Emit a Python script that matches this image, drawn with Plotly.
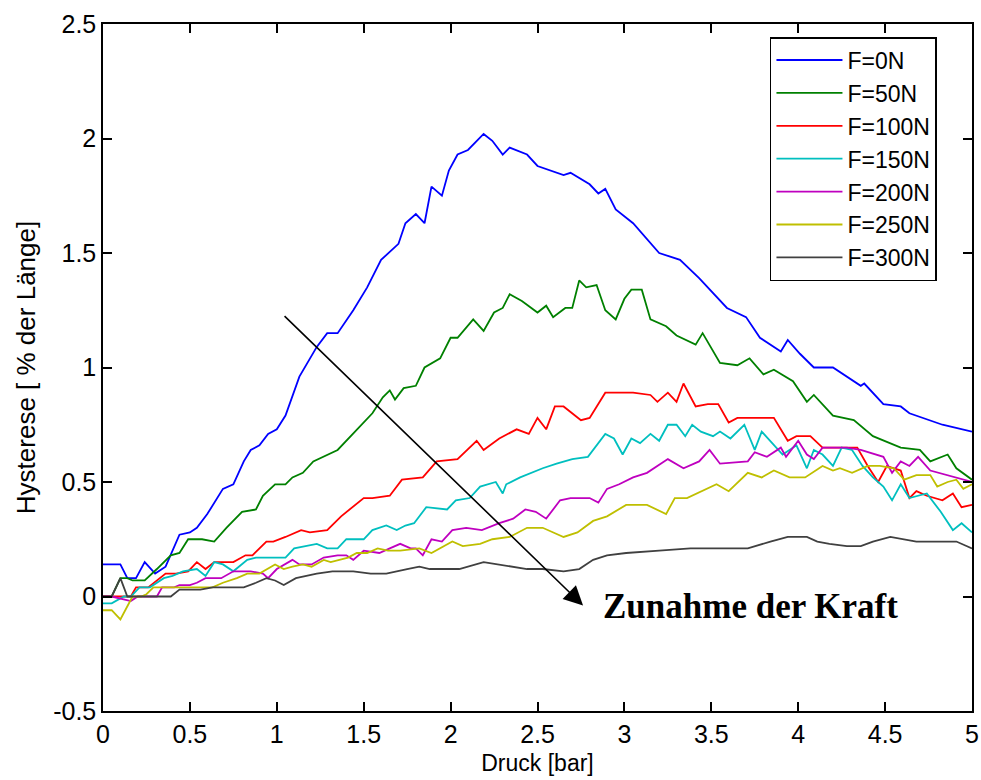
import plotly.graph_objects as go

# Hysterese über Druck für verschiedene Kräfte F
p_0N = [0, 0.1, 0.14, 0.19, 0.24, 0.3, 0.36, 0.44, 0.5, 0.54, 0.6, 0.65, 0.69, 0.75, 0.81, 0.85, 0.9, 0.95, 1.0, 1.05,
        1.13, 1.23, 1.29, 1.35, 1.44, 1.52, 1.6, 1.7, 1.74, 1.8, 1.85, 1.89, 1.95, 1.99, 2.04, 2.1, 2.19, 2.24, 2.3,
        2.34, 2.44, 2.5, 2.65, 2.69, 2.8, 2.85, 2.89, 2.95, 3.05, 3.2, 3.32, 3.43, 3.59, 3.7, 3.78, 3.9, 3.94, 4.01,
        4.09, 4.2, 4.36, 4.38, 4.49, 4.59, 4.64, 4.83, 5.0]
h_0N = [0.14, 0.14, 0.08, 0.08, 0.15, 0.1, 0.13, 0.27, 0.28, 0.3, 0.36, 0.42, 0.47, 0.49, 0.59, 0.64, 0.66, 0.71, 0.73,
        0.79, 0.96, 1.09, 1.15, 1.15, 1.25, 1.35, 1.47, 1.54, 1.63, 1.67, 1.63, 1.79, 1.75, 1.86, 1.93, 1.95, 2.02,
        1.99, 1.93, 1.96, 1.93, 1.88, 1.84, 1.85, 1.8, 1.76, 1.78, 1.69, 1.63, 1.5, 1.47, 1.39, 1.26, 1.22, 1.13,
        1.07, 1.12, 1.06, 1.0, 1.0, 0.92, 0.93, 0.84, 0.83, 0.8, 0.75, 0.72]

p_50N = [0, 0.05, 0.1, 0.14, 0.17, 0.24, 0.31, 0.39, 0.44, 0.49, 0.57, 0.64, 0.71, 0.8, 0.88, 0.92, 0.99, 1.05, 1.09,
         1.15, 1.21, 1.35, 1.45, 1.55, 1.61, 1.65, 1.68, 1.73, 1.8, 1.85, 1.94, 2.0, 2.04, 2.13, 2.19, 2.25, 2.3,
         2.34, 2.41, 2.5, 2.55, 2.59, 2.66, 2.7, 2.74, 2.78, 2.84, 2.89, 2.95, 3.0, 3.04, 3.1, 3.15, 3.24, 3.3, 3.41,
         3.45, 3.55, 3.65, 3.72, 3.8, 3.86, 3.97, 4.05, 4.09, 4.2, 4.32, 4.43, 4.59, 4.7, 4.76, 4.86, 4.91, 5.0]
h_50N = [0, 0, 0.08, 0.08, 0.07, 0.07, 0.12, 0.18, 0.19, 0.25, 0.25, 0.24, 0.3, 0.37, 0.38, 0.44, 0.49, 0.49, 0.52,
         0.54, 0.59, 0.64, 0.72, 0.8, 0.87, 0.9, 0.86, 0.91, 0.92, 1.0, 1.04, 1.13, 1.13, 1.21, 1.16, 1.24, 1.26,
         1.32, 1.29, 1.24, 1.27, 1.22, 1.26, 1.26, 1.38, 1.35, 1.36, 1.25, 1.21, 1.3, 1.34, 1.34, 1.21, 1.18, 1.14,
         1.1, 1.15, 1.02, 1.01, 1.04, 0.97, 0.99, 0.94, 0.85, 0.88, 0.79, 0.77, 0.7, 0.65, 0.64, 0.59, 0.62, 0.56, 0.51]

p_100N = [0, 0.16, 0.19, 0.26, 0.36, 0.42, 0.49, 0.54, 0.59, 0.64, 0.75, 0.82, 0.86, 0.94, 0.98, 1.05, 1.14, 1.19,
          1.29, 1.37, 1.5, 1.55, 1.65, 1.72, 1.84, 1.92, 2.04, 2.15, 2.19, 2.28, 2.38, 2.45, 2.5, 2.55, 2.6, 2.65,
          2.75, 2.8, 2.89, 2.96, 3.05, 3.15, 3.19, 3.25, 3.3, 3.34, 3.41, 3.48, 3.54, 3.6, 3.65, 3.86, 3.94, 3.99,
          4.07, 4.14, 4.34, 4.4, 4.46, 4.51, 4.59, 4.64, 4.68, 4.74, 4.83, 4.89, 4.94, 5.0]
h_100N = [0, 0, 0.04, 0.04, 0.1, 0.1, 0.11, 0.15, 0.12, 0.15, 0.15, 0.18, 0.18, 0.24, 0.24, 0.26, 0.29, 0.28, 0.29,
          0.35, 0.43, 0.43, 0.44, 0.51, 0.52, 0.59, 0.6, 0.68, 0.64, 0.69, 0.73, 0.71, 0.78, 0.73, 0.83, 0.83, 0.77,
          0.78, 0.89, 0.89, 0.89, 0.88, 0.85, 0.89, 0.85, 0.93, 0.83, 0.84, 0.84, 0.76, 0.78, 0.78, 0.68, 0.7, 0.7,
          0.65, 0.65, 0.57, 0.5, 0.57, 0.55, 0.43, 0.46, 0.44, 0.42, 0.45, 0.39, 0.4]

p_150N = [0, 0.05, 0.12, 0.16, 0.21, 0.27, 0.35, 0.4, 0.46, 0.54, 0.59, 0.64, 0.69, 0.75, 0.83, 0.88, 1.05, 1.1,
          1.23, 1.29, 1.35, 1.4, 1.5, 1.55, 1.63, 1.69, 1.74, 1.79, 1.86, 1.98, 2.03, 2.11, 2.17, 2.26, 2.3, 2.32,
          2.4, 2.46, 2.53, 2.61, 2.7, 2.79, 2.89, 2.94, 2.99, 3.04, 3.09, 3.15, 3.2, 3.25, 3.3, 3.35, 3.39, 3.44,
          3.51, 3.55, 3.61, 3.69, 3.75, 3.79, 3.85, 3.91, 3.95, 3.99, 4.05, 4.09, 4.14, 4.2, 4.25, 4.31, 4.37, 4.43,
          4.49, 4.54, 4.59, 4.64, 4.74, 4.82, 4.89, 4.94, 5.0]
h_150N = [-0.03, -0.03, 0, 0, 0.04, 0.04, 0.08, 0.09, 0.11, 0.12, 0.09, 0.15, 0.14, 0.11, 0.16, 0.17, 0.17, 0.21,
          0.23, 0.21, 0.21, 0.25, 0.25, 0.29, 0.31, 0.29, 0.31, 0.32, 0.39, 0.38, 0.42, 0.43, 0.48, 0.5, 0.45, 0.49,
          0.52, 0.54, 0.56, 0.58, 0.6, 0.61, 0.71, 0.69, 0.62, 0.69, 0.67, 0.71, 0.68, 0.75, 0.75, 0.7, 0.75, 0.72,
          0.7, 0.72, 0.69, 0.75, 0.64, 0.72, 0.67, 0.62, 0.64, 0.66, 0.56, 0.64, 0.62, 0.57, 0.65, 0.64, 0.57, 0.52,
          0.48, 0.42, 0.49, 0.43, 0.45, 0.37, 0.29, 0.32, 0.28]

p_200N = [0, 0.05, 0.16, 0.2, 0.31, 0.34, 0.41, 0.44, 0.5, 0.54, 0.59, 0.68, 0.75, 0.85, 0.92, 0.95, 1.0, 1.09,
          1.13, 1.2, 1.27, 1.35, 1.4, 1.44, 1.5, 1.59, 1.65, 1.71, 1.77, 1.8, 1.84, 1.89, 1.95, 2.01, 2.09, 2.18,
          2.28, 2.36, 2.43, 2.49, 2.55, 2.63, 2.69, 2.8, 2.85, 2.9, 2.97, 3.05, 3.13, 3.19, 3.25, 3.34, 3.43, 3.49,
          3.55, 3.71, 3.75, 3.82, 3.9, 3.93, 4.0, 4.05, 4.09, 4.14, 4.28, 4.36, 4.45, 4.49, 4.54, 4.59, 4.64, 4.69,
          4.76, 4.86, 4.95, 5.0]
h_200N = [0, 0, -0.02, 0, 0, 0.04, 0.04, 0.05, 0.05, 0.06, 0.08, 0.08, 0.11, 0.11, 0.1, 0.08, 0.12, 0.16, 0.14,
          0.14, 0.17, 0.18, 0.18, 0.16, 0.2, 0.19, 0.21, 0.23, 0.21, 0.21, 0.18, 0.25, 0.24, 0.29, 0.3, 0.29, 0.32,
          0.34, 0.38, 0.37, 0.34, 0.42, 0.43, 0.43, 0.41, 0.47, 0.49, 0.52, 0.54, 0.57, 0.6, 0.56, 0.59, 0.64, 0.58,
          0.59, 0.63, 0.61, 0.65, 0.61, 0.68, 0.62, 0.6, 0.65, 0.65, 0.64, 0.62, 0.61, 0.54, 0.59, 0.57, 0.61, 0.55,
          0.53, 0.51, 0.5]

p_250N = [0, 0.05, 0.1, 0.14, 0.17, 0.22, 0.25, 0.29, 0.63, 0.69, 0.77, 0.83, 0.9, 0.99, 1.04, 1.09, 1.15, 1.2,
          1.27, 1.31, 1.41, 1.46, 1.52, 1.58, 1.64, 1.71, 1.82, 1.89, 2.01, 2.07, 2.17, 2.24, 2.34, 2.44, 2.53, 2.65,
          2.73, 2.82, 2.9, 3.01, 3.13, 3.24, 3.29, 3.36, 3.45, 3.53, 3.6, 3.71, 3.79, 3.86, 3.95, 4.04, 4.14, 4.2,
          4.24, 4.31, 4.4, 4.47, 4.55, 4.61, 4.68, 4.76, 4.8, 4.86, 4.91, 4.95, 5.0]
h_250N = [-0.06, -0.06, -0.1, -0.04, 0, 0, 0.01, 0.04, 0.04, 0.06, 0.08, 0.1, 0.1, 0.14, 0.12, 0.13, 0.14, 0.13,
          0.16, 0.15, 0.17, 0.19, 0.19, 0.21, 0.2, 0.2, 0.21, 0.19, 0.24, 0.22, 0.23, 0.25, 0.26, 0.3, 0.3, 0.26,
          0.28, 0.33, 0.35, 0.4, 0.4, 0.36, 0.43, 0.43, 0.46, 0.49, 0.46, 0.54, 0.52, 0.55, 0.52, 0.52, 0.57, 0.55,
          0.56, 0.54, 0.57, 0.57, 0.56, 0.51, 0.53, 0.53, 0.48, 0.5, 0.51, 0.47, 0.49]

p_300N = [0, 0.05, 0.1, 0.14, 0.39, 0.44, 0.52, 0.56, 0.63, 0.69, 0.77, 0.81, 0.88, 0.94, 0.99, 1.04, 1.11, 1.23,
          1.32, 1.44, 1.54, 1.63, 1.75, 1.82, 1.88, 2.05, 2.19, 2.28, 2.44, 2.53, 2.65, 2.74, 2.82, 2.9, 3.01, 3.2,
          3.38, 3.51, 3.71, 3.84, 3.94, 4.05, 4.11, 4.18, 4.28, 4.36, 4.43, 4.53, 4.61, 4.68, 4.83, 4.91, 5.0]
h_300N = [0, 0, 0.08, 0, 0, 0.03, 0.03, 0.03, 0.04, 0.04, 0.04, 0.04, 0.06, 0.08, 0.07, 0.05, 0.08, 0.1, 0.11,
          0.11, 0.1, 0.1, 0.12, 0.13, 0.12, 0.12, 0.15, 0.14, 0.12, 0.12, 0.11, 0.12, 0.16, 0.18, 0.19, 0.2, 0.21,
          0.21, 0.21, 0.24, 0.26, 0.26, 0.24, 0.23, 0.22, 0.22, 0.24, 0.26, 0.25, 0.24, 0.24, 0.24, 0.21]

series_names = ["F=0N", "F=50N", "F=100N", "F=150N", "F=200N", "F=250N", "F=300N"]
series_p = [p_0N, p_50N, p_100N, p_150N, p_200N, p_250N, p_300N]
series_h = [h_0N, h_50N, h_100N, h_150N, h_200N, h_250N, h_300N]
series_colors = ["#0000ff", "#008000", "#ff0000", "#00bfbf", "#bf00bf", "#bfbf00", "#404040"]

x_ticks = [0, 0.5, 1, 1.5, 2, 2.5, 3, 3.5, 4, 4.5, 5]
x_ticktext = ["0", "0.5", "1", "1.5", "2", "2.5", "3", "3.5", "4", "4.5", "5"]
y_ticks = [-0.5, 0, 0.5, 1, 1.5, 2, 2.5]
y_ticktext = ["-0.5", "0", "0.5", "1", "1.5", "2", "2.5"]

# Pfeil "Zunahme der Kraft": Start- und Endpunkt in Achsenkoordinaten
arrow_start = (1.036, 1.231)
arrow_end = (2.762, -0.039)
arrow_label = "Zunahme der Kraft"
label_pos = (3.725, -0.044)

fig = go.Figure()
for name, p, h, c in zip(series_names, series_p, series_h, series_colors):
    fig.add_trace(go.Scatter(x=p, y=h, mode="lines", name=name,
                             line=dict(color=c, width=1.8)))

sans = "Liberation Sans, Arial, sans-serif"
axis_font = dict(family=sans, size=25, color="black")

fig.update_xaxes(range=[0, 5], tickvals=x_ticks, ticktext=x_ticktext, automargin=False,
                 ticks="inside", ticklen=9, tickwidth=1.5, tickcolor="black",
                 showline=True, linecolor="black", linewidth=1.5, mirror="allticks",
                 showgrid=False, zeroline=False, tickfont=axis_font,
                 title=dict(text="Druck [bar]", font=dict(family=sans, size=23, color="black"), standoff=8))
fig.update_yaxes(range=[-0.5, 2.5], tickvals=y_ticks, ticktext=y_ticktext, automargin=False,
                 ticks="inside", ticklen=9, tickwidth=1.5, tickcolor="black",
                 showline=True, linecolor="black", linewidth=1.5, mirror="allticks",
                 showgrid=False, zeroline=False, tickfont=axis_font,
                 title=dict(text="Hysterese [ % der Länge]",
                            font=dict(family=sans, size=26, color="black"), standoff=10))

fig.add_annotation(x=arrow_end[0], y=arrow_end[1], ax=arrow_start[0], ay=arrow_start[1],
                   xref="x", yref="y", axref="x", ayref="y", text="",
                   showarrow=True, arrowhead=2, arrowsize=2.4, arrowwidth=1.6, arrowcolor="black")
fig.add_annotation(x=label_pos[0], y=label_pos[1], xref="x", yref="y", text="<b>" + arrow_label + "</b>",
                   showarrow=False, font=dict(family="Liberation Serif, Times New Roman, serif",
                                              size=35, color="black"))

fig.update_layout(
    width=981, height=780,
    margin=dict(l=103, r=9, t=24, b=69),
    paper_bgcolor="white", plot_bgcolor="white",
    showlegend=True,
    legend=dict(x=0.7675, y=0.981, xanchor="left", yanchor="top",
                bgcolor="white", bordercolor="black", borderwidth=1.5,
                font=dict(family=sans, size=23, color="black"),
                itemwidth=66, tracegroupgap=0, entrywidth=187, entrywidthmode="pixels"),
)

fig.write_html("out.html")
